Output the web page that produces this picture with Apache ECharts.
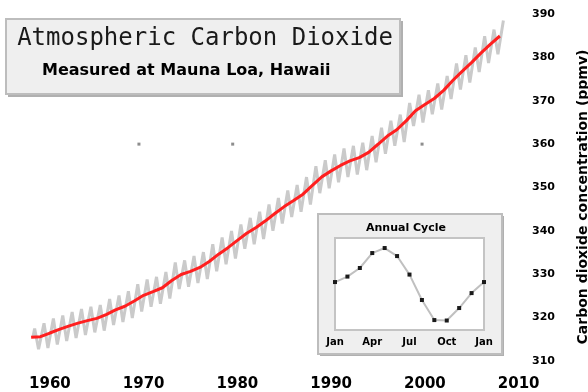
<!DOCTYPE html>
<html>
<head>
<meta charset="utf-8">
<script src="https://cdn.jsdelivr.net/npm/echarts@6/dist/echarts.min.js"></script>
<style>html,body{margin:0;padding:0;background:#fff}#c{width:588px;height:392px}</style>
</head>
<body>
<div id="c"></div>
<script>
// ---- Data ----
const years = [1958,1959,1960,1961,1962,1963,1964,1965,1966,1967,1968,1969,1970,1971,1972,1973,1974,1975,1976,1977,1978,1979,1980,1981,1982,1983,1984,1985,1986,1987,1988,1989,1990,1991,1992,1993,1994,1995,1996,1997,1998,1999,2000,2001,2002,2003,2004,2005,2006,2007,2008];
// 12-month running mean (ppmv), read at each January
const runningMean = [315.45,315.6,316.45,317.28,318.05,318.72,319.31,319.83,320.71,321.78,322.62,323.84,325.15,326.0,326.89,328.57,329.94,330.66,331.58,332.94,334.63,336.13,337.8,339.44,340.8,342.32,344.0,345.6,346.98,348.46,350.5,352.45,353.83,355.08,356.12,356.88,358.09,359.97,361.86,363.31,365.36,367.69,369.13,370.52,372.39,374.72,376.84,378.84,381.04,383.06,384.93];
// Monthly record: first month (March 1958), seasonal highs (May) and lows (October)
const firstMonthValue = 315.7;
const seasonalHigh = [317.5,318.7,319.8,320.5,321.3,322.0,322.5,322.9,324.3,325.1,326.1,327.7,328.8,329.4,330.5,332.7,333.2,334.2,335.1,336.9,338.5,340.0,341.5,343.0,344.4,346.1,347.6,349.3,350.6,352.4,354.9,356.3,357.6,359.0,359.6,360.3,361.9,363.8,365.4,366.8,369.5,371.4,372.4,374.0,375.7,378.6,380.5,382.3,384.9,386.4,388.5];
const seasonalLow = [312.7,313.0,313.8,314.6,315.3,316.0,316.6,317.0,318.3,319.0,319.9,321.4,322.5,323.2,324.4,326.6,327.1,328.0,328.9,330.7,332.3,333.6,335.9,336.9,338.1,340.0,341.7,343.2,344.4,346.1,348.7,349.8,351.2,352.4,353.0,354.0,355.8,357.8,359.6,360.5,364.2,365.0,366.9,368.0,370.4,372.6,374.2,376.6,378.7,380.7];
const firstMonthFrac = 2.5 / 12, highMonthFrac = 4.5 / 12, lowMonthFrac = 9.5 / 12;
// stray gridline marks at 360 ppmv
const gridMarkYears = [1969.5, 1979.5, 1999.7];
const gridMarkValue = 360;
// axis ticks
const xTickYears = [1960,1970,1980,1990,2000,2010];
// inset: annual cycle (deviation, ppmv)
const insetMonths = [0,1,2,3,4,5,6,7,8,9,10,11,12];
const insetValues = [0,0.49,1.26,2.6,3.05,2.33,0.67,-1.61,-3.41,-3.45,-2.33,-0.99,0];
const insetTickMonths = [0,3,6,9,12];
const insetTickLabels = ['Jan','Apr','Jul','Oct','Jan'];

// ---- Build series data ----
const redData = years.map((y, i) => [y, runningMean[i]]);
const greyData = [[years[0] + firstMonthFrac, firstMonthValue]];
years.forEach((y, i) => {
  greyData.push([y + highMonthFrac, seasonalHigh[i]]);
  if (i < seasonalLow.length) greyData.push([y + lowMonthFrac, seasonalLow[i]]);
});
const markData = gridMarkYears.map(y => [y, gridMarkValue]);
const insetData = insetMonths.map((m, i) => [m, insetValues[i]]);

const FF = '"DejaVu Sans", Verdana, sans-serif';
const chart = echarts.init(document.getElementById('c'), null, {renderer: 'canvas'});
chart.setOption({
  animation: false,
  backgroundColor: '#ffffff',
  grid: [
    {left: 3, width: 525, top: 14, height: 348},
    {left: 335, width: 149, top: 238, height: 92, show: true, backgroundColor: '#ffffff', borderColor: '#c4c4c4', borderWidth: 2, z: 1}
  ],
  xAxis: [
    {
      type: 'value', gridIndex: 0, min: 1955, max: 2011,
      axisLine: {show: false}, axisTick: {show: false}, splitLine: {show: false},
      axisLabel: {
        customValues: xTickYears, margin: 16, color: '#000',
        fontFamily: FF, fontWeight: 'bold', fontSize: 15,
        formatter: v => String(v)
      }
    },
    {
      type: 'value', gridIndex: 1, min: 0, max: 12, position: 'bottom',
      axisLine: {show: false}, splitLine: {show: false},
      axisTick: {show: true, inside: true, length: 3, customValues: [3,6,9], lineStyle: {color: '#bbbbbb', width: 2}},
      axisLabel: {
        customValues: insetTickMonths, margin: 7, color: '#000',
        fontFamily: FF, fontWeight: 'bold', fontSize: 10,
        formatter: v => insetTickLabels[insetTickMonths.indexOf(v)]
      }
    },
    {
      type: 'value', gridIndex: 1, min: 0, max: 12, position: 'top',
      axisLine: {show: false}, splitLine: {show: false}, axisLabel: {show: false},
      axisTick: {show: true, inside: true, length: 3, customValues: [3,6,9], lineStyle: {color: '#bbbbbb', width: 2}}
    }
  ],
  yAxis: [
    {
      type: 'value', gridIndex: 0, position: 'right', min: 310, max: 390, interval: 10,
      axisLine: {show: false}, axisTick: {show: false}, splitLine: {show: false},
      axisLabel: {margin: 4, color: '#000', fontFamily: FF, fontWeight: 'bold', fontSize: 11}
    },
    {
      type: 'value', gridIndex: 1, min: -4.3, max: 3.95, show: false
    }
  ],
  series: [
    {
      type: 'line', xAxisIndex: 0, yAxisIndex: 0, data: greyData, symbol: 'none',
      lineStyle: {color: '#cacaca', width: 3}, z: 2
    },
    {
      type: 'line', xAxisIndex: 0, yAxisIndex: 0, data: redData, symbol: 'none',
      lineStyle: {color: '#ff1f1f', width: 3}, z: 3
    },
    {
      type: 'scatter', xAxisIndex: 0, yAxisIndex: 0, data: markData, symbol: 'rect', symbolSize: 3,
      itemStyle: {color: '#707070'}, z: 3
    },
    {
      type: 'line', xAxisIndex: 1, yAxisIndex: 1, data: insetData, symbol: 'rect', symbolSize: 4,
      showAllSymbol: true,
      lineStyle: {color: '#c0c0c0', width: 2}, itemStyle: {color: '#1a1a1a'}, z: 5
    }
  ],
  graphic: [
    {type: 'rect', z: -10, shape: {x: 8, y: 21, width: 395, height: 76}, style: {fill: '#b0b0b0'}},
    {type: 'rect', z: -9, shape: {x: 6, y: 19, width: 394, height: 75}, style: {fill: '#efefef', stroke: '#bdbdbd', lineWidth: 2}},
    {type: 'text', z: 10, x: 205, y: 39, style: {text: 'Atmospheric Carbon Dioxide', fill: '#1a1a1a', font: 'normal 24px "DejaVu Sans Mono", monospace', align: 'center', verticalAlign: 'middle', textAlign: 'center', textVerticalAlign: 'middle'}},
    {type: 'text', z: 10, x: 42, y: 71, style: {text: 'Measured at Mauna Loa, Hawaii', fill: '#000', font: 'bold 16px ' + FF, align: 'left', verticalAlign: 'middle', textAlign: 'left', textVerticalAlign: 'middle'}},
    {type: 'rect', z: -10, shape: {x: 320, y: 216, width: 184, height: 140}, style: {fill: '#b0b0b0'}},
    {type: 'rect', z: -9, shape: {x: 318, y: 214, width: 184, height: 140}, style: {fill: '#efefef', stroke: '#bdbdbd', lineWidth: 2}},
    {type: 'text', z: 10, x: 406, y: 228, style: {text: 'Annual Cycle', fill: '#000', font: 'bold 11px ' + FF, align: 'center', verticalAlign: 'middle', textAlign: 'center', textVerticalAlign: 'middle'}},
    {type: 'text', z: 10, x: 583, y: 197, rotation: Math.PI / 2, style: {text: 'Carbon dioxide concentration (ppmv)', fill: '#000', font: 'bold 14px ' + FF, align: 'center', verticalAlign: 'middle', textAlign: 'center', textVerticalAlign: 'middle'}}
  ]
});
</script>
</body>
</html>
